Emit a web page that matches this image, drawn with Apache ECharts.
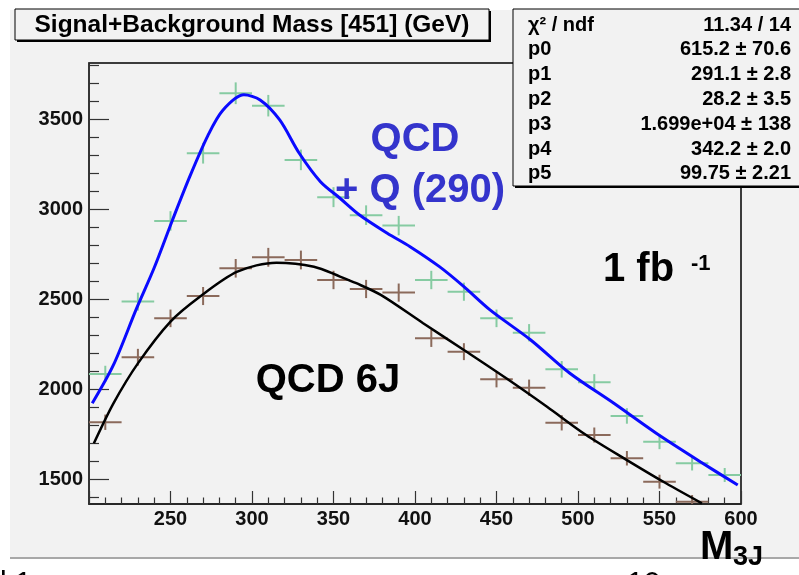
<!DOCTYPE html>
<html>
<head>
<meta charset="utf-8">
<script src="https://cdn.jsdelivr.net/npm/echarts@6/dist/echarts.min.js"></script>
<style>
  html, body { margin: 0; padding: 0; background: #fff; }
  #chart { width: 799px; height: 575px; }
</style>
</head>
<body>
<div id="chart"></div>
<script>
// Histogram bins (20 GeV wide) for the 3-jet invariant mass
const binCenters = [210, 230, 250, 270, 290, 310, 330, 350, 370, 390, 410, 430, 450, 470, 490, 510, 530, 550, 570, 590];
const binHalfWidth = 10;

// Signal + background counts (QCD + Q(290))
const sigBkgCounts = [2085, 2487, 2935, 3311, 3644, 3575, 3274, 3067, 2967, 2909, 2607, 2542, 2394, 2314, 2111, 2039, 1852, 1709, 1589, 1524];
// QCD 6J background-only counts (last bin falls below the frame)
const bkgCounts = [1817, 2178, 2394, 2518, 2672, 2733, 2718, 2607, 2557, 2537, 2283, 2209, 2056, 2009, 1814, 1746, 1617, 1487, 1376, null];

// Fitted curves, sampled along the mass axis
const fitTotalX = [202, 215, 229, 240, 251, 262, 273, 282, 295, 305, 317, 329, 342, 354, 366, 383, 397, 415, 430, 446, 471, 495, 522, 548, 575, 598];
const fitTotalY = [1922, 2135, 2445, 2675, 2935, 3185, 3410, 3548, 3635, 3607, 3496, 3311, 3153, 3061, 2968, 2867, 2792, 2681, 2570, 2441, 2274, 2089, 1922, 1756, 1598, 1468];
const fitBkgX = [203, 215, 230, 250, 268, 291, 315, 338, 354, 364, 379, 405, 430, 456, 481, 505, 530, 554, 576];
const fitBkgY = [1700, 1922, 2144, 2376, 2514, 2653, 2703, 2681, 2626, 2589, 2524, 2367, 2218, 2061, 1903, 1746, 1607, 1478, 1367];

// Axis ticks
const xTickLabels = [250, 300, 350, 400, 450, 500, 550, 600];
const yMajorTicks = [1500, 2000, 2500, 3000, 3500];
const yMinorTicks = [1400, 1600, 1700, 1800, 1900, 2100, 2200, 2300, 2400, 2600, 2700, 2800, 2900, 3100, 3200, 3300, 3400, 3600, 3700, 3800];

// Fit statistics box
const statNames = ['χ² / ndf', 'p0', 'p1', 'p2', 'p3', 'p4', 'p5'];
const statValues = ['11.34 / 14', '615.2 ± 70.6', '291.1 ± 2.8', '28.2 ± 3.5', '1.699e+04 ± 138', '342.2 ± 2.0', '99.75 ± 2.21'];

const FONT = '"Liberation Sans", Arial, Helvetica, sans-serif';
const X_MIN = 200, X_MAX = 600, Y_MIN = 1363, Y_MAX = 3812;

function crossData(counts) {
  const out = [];
  binCenters.forEach((x, i) => {
    if (counts[i] != null) out.push([x, counts[i], Math.sqrt(counts[i])]); // Poisson errors
  });
  return out;
}

function crossRenderer(color) {
  return function (params, api) {
    const x = api.value(0), y = api.value(1), e = api.value(2);
    const a = api.coord([x - binHalfWidth, y]);
    const b = api.coord([x + binHalfWidth, y]);
    const c = api.coord([x, y - e]);
    const d = api.coord([x, y + e]);
    const st = { stroke: color, lineWidth: 2 };
    return {
      type: 'group',
      children: [
        { type: 'line', shape: { x1: a[0], y1: a[1], x2: b[0], y2: b[1] }, style: st },
        { type: 'line', shape: { x1: c[0], y1: c[1], x2: d[0], y2: d[1] }, style: st }
      ]
    };
  };
}

const chart = echarts.init(document.getElementById('chart'), null, { renderer: 'canvas' });

const statTexts = [];
statNames.forEach((n, i) => {
  const cy = 25 + i * 24.8;
  statTexts.push({
    type: 'text', x: 528, y: cy, z: 110,
    style: { text: n, font: 'bold 20px ' + FONT, fill: '#000', textAlign: 'left', textVerticalAlign: 'middle' }
  });
  statTexts.push({
    type: 'text', x: 791, y: cy, z: 110,
    style: { text: statValues[i], font: 'bold 20px ' + FONT, fill: '#000', textAlign: 'right', textVerticalAlign: 'middle' }
  });
});

const tickLabelStyle = { fontFamily: FONT, fontWeight: 'bold', fontSize: 20, color: '#111' };

chart.setOption({
  backgroundColor: '#ffffff',
  animation: false,
  grid: {
    left: 89, right: 58, top: 63, bottom: 71,
    show: true, borderColor: '#000', borderWidth: 1.5, backgroundColor: 'transparent'
  },
  xAxis: {
    type: 'value', min: X_MIN, max: X_MAX, interval: 50,
    axisLine: { show: true, lineStyle: { color: '#222', width: 1.5 } },
    axisTick: { show: true, inside: true, length: 13, lineStyle: { color: '#333', width: 1.2 } },
    minorTick: { show: true, splitNumber: 5, length: 6.5, lineStyle: { color: '#333', width: 1.2 } },
    axisLabel: Object.assign({ customValues: xTickLabels, margin: 5, formatter: v => String(v) }, tickLabelStyle),
    splitLine: { show: false }
  },
  yAxis: [
    {
      type: 'value', min: Y_MIN, max: Y_MAX, position: 'left',
      axisLine: { show: true, lineStyle: { color: '#333', width: 1.5 } },
      axisTick: { show: true, inside: true, length: 20, customValues: yMajorTicks, lineStyle: { color: '#333', width: 1.2 } },
      axisLabel: Object.assign({ customValues: yMajorTicks, margin: 6, formatter: v => String(v) }, tickLabelStyle),
      splitLine: { show: false }
    },
    {
      type: 'value', min: Y_MIN, max: Y_MAX, position: 'left',
      axisLine: { show: false },
      axisTick: { show: true, inside: true, length: 10, customValues: yMinorTicks, lineStyle: { color: '#333', width: 1.2 } },
      axisLabel: { show: false },
      splitLine: { show: false }
    }
  ],
  series: [
    {
      type: 'custom', name: 'QCD + Q (290)', yAxisIndex: 0, clip: true, z: 3,
      renderItem: crossRenderer('#86cba2'),
      data: crossData(sigBkgCounts)
    },
    {
      type: 'custom', name: 'QCD 6J', yAxisIndex: 0, clip: true, z: 3,
      renderItem: crossRenderer('#8b6a5b'),
      data: crossData(bkgCounts)
    },
    {
      type: 'line', name: 'fit QCD + Q', yAxisIndex: 0, clip: true, z: 5,
      smooth: 0.3, showSymbol: false, symbol: 'none',
      lineStyle: { color: '#0a0aff', width: 3 },
      data: fitTotalX.map((x, i) => [x, fitTotalY[i]])
    },
    {
      type: 'line', name: 'fit QCD 6J', yAxisIndex: 0, clip: true, z: 5,
      smooth: 0.3, showSymbol: false, symbol: 'none',
      lineStyle: { color: '#000', width: 2.5 },
      data: fitBkgX.map((x, i) => [x, fitBkgY[i]])
    }
  ],
  graphic: [
    // pad background
    { type: 'rect', z: -10, shape: { x: 10, y: 10, width: 800, height: 548 }, style: { fill: '#f2f2f2' } },
    { type: 'line', z: -9, shape: { x1: 10, y1: 558, x2: 799, y2: 558 }, style: { stroke: '#a8a8a8', lineWidth: 2 } },
    // title box with shadow
    { type: 'rect', z: 100, shape: { x: 17, y: 11, width: 474, height: 31 }, style: { fill: '#000' } },
    { type: 'rect', z: 101, shape: { x: 15, y: 9, width: 474, height: 31 }, style: { fill: '#f2f2f2', stroke: '#000', lineWidth: 1 } },
    {
      type: 'text', z: 102, x: 252, y: 25,
      style: { text: 'Signal+Background Mass [451] (GeV)', font: 'bold 24.5px ' + FONT, fill: '#000', textAlign: 'center', textVerticalAlign: 'middle' }
    },
    // stats box with shadow
    { type: 'rect', z: 100, shape: { x: 515, y: 11, width: 300, height: 177 }, style: { fill: '#000' } },
    { type: 'rect', z: 101, shape: { x: 513, y: 9, width: 300, height: 177 }, style: { fill: '#f2f2f2', stroke: '#000', lineWidth: 1 } },
    ...statTexts,
    // annotations
    {
      type: 'text', z: 120, x: 415, y: 140,
      style: { text: 'QCD', font: 'bold 40px ' + FONT, fill: '#3434cc', textAlign: 'center', textVerticalAlign: 'middle' }
    },
    {
      type: 'text', z: 120, x: 420, y: 191,
      style: { text: '+ Q (290)', font: 'bold 40px ' + FONT, fill: '#3434cc', textAlign: 'center', textVerticalAlign: 'middle' }
    },
    {
      type: 'text', z: 120, x: 328, y: 381,
      style: { text: 'QCD 6J', font: 'bold 40px ' + FONT, fill: '#000', textAlign: 'center', textVerticalAlign: 'middle' }
    },
    {
      type: 'text', z: 120, x: 603, y: 270,
      style: { text: '1 fb', font: 'bold 40px ' + FONT, fill: '#000', textAlign: 'left', textVerticalAlign: 'middle' }
    },
    {
      type: 'text', z: 120, x: 691, y: 264,
      style: { text: '-1', font: 'bold 22px ' + FONT, fill: '#000', textAlign: 'left', textVerticalAlign: 'middle' }
    },
    {
      type: 'text', z: 120, x: 700, y: 548,
      style: { text: 'M', font: 'bold 40px ' + FONT, fill: '#000', textAlign: 'left', textVerticalAlign: 'middle' }
    },
    {
      type: 'text', z: 120, x: 733, y: 558,
      style: { text: '3J', font: 'bold 27px ' + FONT, fill: '#000', textAlign: 'left', textVerticalAlign: 'middle' }
    },
    {
      type: 'text', z: 120, x: 627, y: 584,
      style: { text: '10', font: '30px ' + FONT, fill: '#000', textAlign: 'left', textVerticalAlign: 'middle' }
    },
    {
      type: 'text', z: 120, x: 0, y: 584,
      style: { text: 'l 1', font: '30px ' + FONT, fill: '#000', textAlign: 'left', textVerticalAlign: 'middle' }
    }
  ]
});
</script>
</body>
</html>
